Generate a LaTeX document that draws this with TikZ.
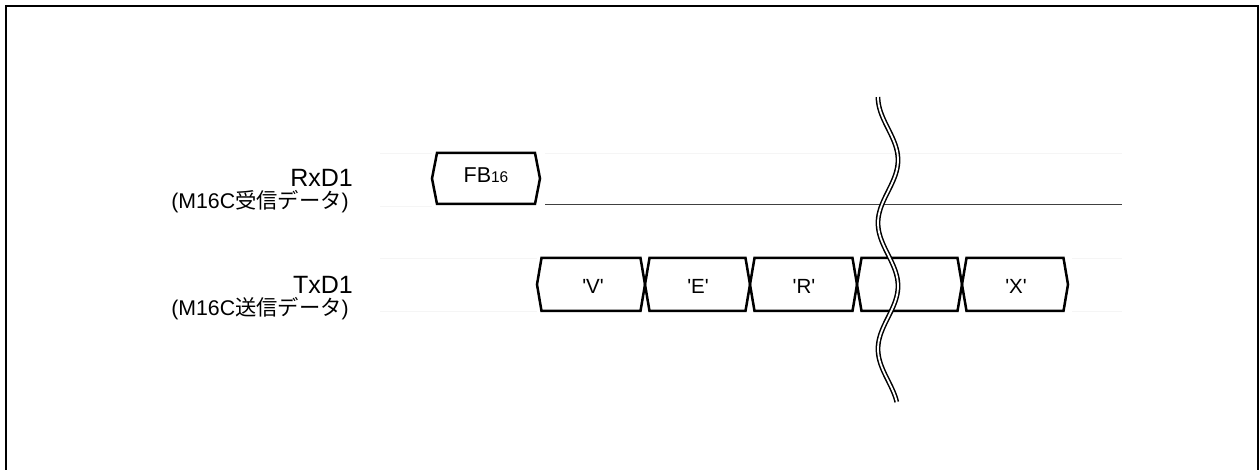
\documentclass[tikz,border=0pt]{standalone}
\usepackage{fontspec}
\setmainfont{Liberation Sans}[Ligatures=TeXOff]
\newfontfamily\cjk{Noto Sans CJK JP}
\newcommand{\sq}{{\char39}}
\begin{document}
\begin{tikzpicture}[x=1pt,y=-1pt,
  sig/.style={line width=2.5pt,line join=miter},
  ghost/.style={black!4,line width=0.8pt},
  mainlbl/.style={font=\fontsize{25}{25}\selectfont,inner sep=0pt},
  sublbl/.style={font=\fontsize{21.3}{22}\selectfont,inner sep=0pt},
  boxlbl/.style={font=\fontsize{20.5}{20}\selectfont,inner sep=0pt,anchor=base}]
\useasboundingbox (0,0) rectangle (1259,470);
\draw[line width=2.8pt] (6,480) -- (6,6) -- (1258,6) -- (1258,480);
% ghost guide lines
\draw[ghost] (380,153) -- (432,153) (545,153) -- (1122,153) (380,206) -- (432,206);
\draw[ghost] (380,258) -- (537,258) (380,311) -- (537,311);
\draw[ghost] (1072,258) -- (1122,258) (1072,311) -- (1122,311);
% labels
\node[mainlbl,anchor=base east] (rxd) at (353,187) {RxD1};
\node[sublbl,anchor=base east] (rxds) at (349,209) {(M16C{\cjk 受信データ})};
\node[mainlbl,anchor=base east] (txd) at (353,294) {TxD1};
\node[sublbl,anchor=base east] (txds) at (349,316) {(M16C{\cjk 送信データ})};
% RxD1 box
\draw[sig] (432,178.5) -- (437,153) -- (535,153) -- (540,178.5) -- (535,204) -- (437,204) -- cycle;
\node[boxlbl,font=\fontsize{21.5}{21}\selectfont] (fb) at (486,183) {FB{\fontsize{15.5}{15}\selectfont 16}};
\coordinate (rxa) at (545,205);
\coordinate (rxb) at (1122,205);
\draw[black!75,line width=1pt] (rxa) -- (rxb);
% TxD1 boxes
\foreach \a/\b in {537/645,645/750,750/857,857/962,962/1068}{
  \draw[sig] (\a,284.5) -- (\a+4.5,258) -- (\b-4.5,258) -- (\b,284.5) -- (\b-4.5,311) -- (\a+4.5,311) -- cycle;
}
\node[boxlbl] (v) at (593,294) {\sq V\sq};
\node[boxlbl] (e) at (698,294) {\sq E\sq};
\node[boxlbl] (r) at (804,294) {\sq R\sq};
\node[boxlbl] (xx) at (1016,294) {\sq X\sq};
% break mark
\draw[line width=4.8pt] plot[domain=97:402,samples=120,smooth] ({888-10*cos((\x-97)/63*180)},\x);
\draw[white,line width=1.8pt] plot[domain=95:404,samples=120,smooth] ({888-10*cos((\x-97)/63*180)},\x);
\end{tikzpicture}
\end{document}
